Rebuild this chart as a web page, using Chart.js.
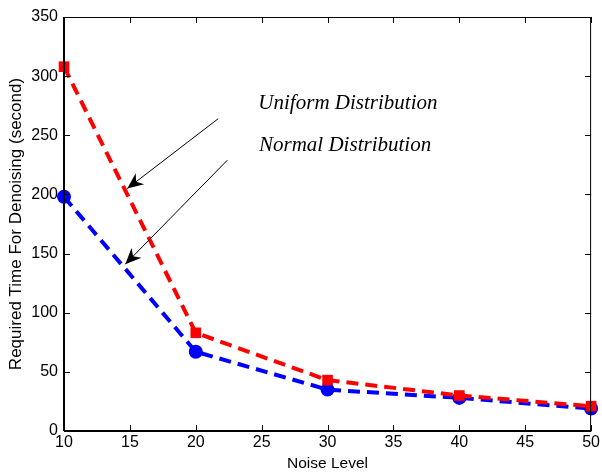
<!DOCTYPE html>
<html>
<head>
<meta charset="utf-8">
<script src="https://cdn.jsdelivr.net/npm/chart.js@4.4.0/dist/chart.umd.min.js"></script>
<style>
  html, body { margin: 0; padding: 0; background: #fff; }
  #wrap { width: 602px; height: 473px; }
</style>
</head>
<body>
<div id="wrap"><canvas id="plot" width="602" height="473"></canvas></div>
<script>
// noise levels on the x axis
const noiseLevels = [10, 20, 30, 40, 50];
// required time (seconds)
const uniformTimes = [308, 83, 43, 30, 21];
const normalTimes = [198, 67, 35, 28, 19];

// text labels with arrows, in data units
const notes = [
  { text: "Uniform Distribution", x: 24.75, y: 277, from: [21.7, 264], to: [14.8, 205] },
  { text: "Normal Distribution", x: 24.8, y: 241, from: [22.4, 229], to: [14.65, 141] }
];

/* draws the black box and inward ticks like matlab */
const frame = {
  id: 'frame',
  afterDatasetsDraw(chart) {
    const { ctx, chartArea: a, scales } = chart;
    ctx.save();
    ctx.strokeStyle = '#000';
    ctx.lineWidth = 1;
    ctx.strokeRect(a.left + 0.5, a.top + 0.5, a.right - a.left - 1, a.bottom - a.top);
    ctx.lineWidth = 2;
    ctx.beginPath();
    ctx.moveTo(a.left, a.bottom); ctx.lineTo(a.right, a.bottom);
    ctx.moveTo(a.left, a.top); ctx.lineTo(a.left, a.bottom);
    ctx.stroke();
    ctx.lineWidth = 1;
    ctx.beginPath();
    for (let v = 10; v <= 50; v += 5) {
      const px = Math.round(scales.x.getPixelForValue(v)) + 0.5;
      ctx.moveTo(px, a.bottom); ctx.lineTo(px, a.bottom - 6);
      ctx.moveTo(px, a.top); ctx.lineTo(px, a.top + 6);
    }
    for (let v = 0; v <= 350; v += 50) {
      const py = Math.round(scales.y.getPixelForValue(v)) + 0.5;
      ctx.moveTo(a.left, py); ctx.lineTo(a.left + 6, py);
      ctx.moveTo(a.right, py); ctx.lineTo(a.right - 6, py);
    }
    ctx.stroke();

    // annotations
    ctx.fillStyle = '#000';
    ctx.font = 'italic 21px "Liberation Serif", "DejaVu Serif", serif';
    ctx.textBaseline = 'middle';
    notes.forEach(n => {
      ctx.fillText(n.text, scales.x.getPixelForValue(n.x), scales.y.getPixelForValue(n.y));
      const x1 = scales.x.getPixelForValue(n.from[0]), y1 = scales.y.getPixelForValue(n.from[1]);
      const x2 = scales.x.getPixelForValue(n.to[0]), y2 = scales.y.getPixelForValue(n.to[1]);
      ctx.lineWidth = 1;
      ctx.beginPath();
      ctx.moveTo(x1, y1); ctx.lineTo(x2, y2);
      ctx.stroke();
      // arrow head
      const ang = Math.atan2(y2 - y1, x2 - x1);
      const len = 16, wid = 7;
      const bx = x2 - len * Math.cos(ang), by = y2 - len * Math.sin(ang);
      const nx = -Math.sin(ang), ny = Math.cos(ang);
      const mx = x2 - len * 0.7 * Math.cos(ang), my = y2 - len * 0.7 * Math.sin(ang);
      ctx.beginPath();
      ctx.moveTo(x2, y2);
      ctx.lineTo(bx + nx * wid, by + ny * wid);
      ctx.lineTo(mx, my);
      ctx.lineTo(bx - nx * wid, by - ny * wid);
      ctx.closePath();
      ctx.fill();
    });
    ctx.restore();
  }
};

const tickFont = { family: '"Liberation Sans", Arial, sans-serif', size: 16 };
const xTitleFont = { family: '"Liberation Sans", Arial, sans-serif', size: 15.5 };
const yTitleFont = { family: '"Liberation Sans", Arial, sans-serif', size: 17 };

const config = {
  type: 'line',
  data: {
    datasets: [
      {
        label: 'Uniform Distribution',
        data: noiseLevels.map((x, i) => ({ x: x, y: uniformTimes[i] })),
        borderColor: '#ff0000',
        backgroundColor: '#ff0000',
        borderWidth: 4,
        borderDash: [12, 7],
        pointStyle: 'rect',
        pointRadius: 7.5,
        pointBorderWidth: 0,
        tension: 0
      },
      {
        label: 'Normal Distribution',
        data: noiseLevels.map((x, i) => ({ x: x, y: normalTimes[i] })),
        borderColor: '#0000ff',
        backgroundColor: '#0000ff',
        borderWidth: 4,
        borderDash: [12, 7],
        pointStyle: 'circle',
        pointRadius: 7,
        pointBorderWidth: 0,
        tension: 0
      }
    ]
  },
  options: {
    responsive: false,
    animation: false,
    clip: false,
    layout: { padding: { top: 17, right: 10, left: 0, bottom: 0 } },
    plugins: { legend: { display: false }, tooltip: { enabled: false } },
    scales: {
      x: {
        type: 'linear',
        min: 10, max: 50,
        ticks: { stepSize: 5, color: '#000', font: tickFont, padding: 2, maxRotation: 0 },
        grid: { display: false, drawTicks: false },
        border: { display: false },
        title: { display: true, text: 'Noise Level', color: '#000', font: xTitleFont, padding: { top: 2, bottom: 0 } },
        afterFit: s => { s.height = 42; }
      },
      y: {
        min: 0, max: 350,
        ticks: { stepSize: 50, color: '#000', font: tickFont, padding: 6 },
        grid: { display: false, drawTicks: false },
        border: { display: false },
        title: { display: true, text: 'Required Time For Denoising (second)', color: '#000', font: yTitleFont, padding: { top: 6, bottom: 0 } },
        afterFit: s => { s.width = 64; }
      }
    }
  },
  plugins: [frame]
};

const myChart = new Chart(document.getElementById('plot'), config);
</script>
</body>
</html>
